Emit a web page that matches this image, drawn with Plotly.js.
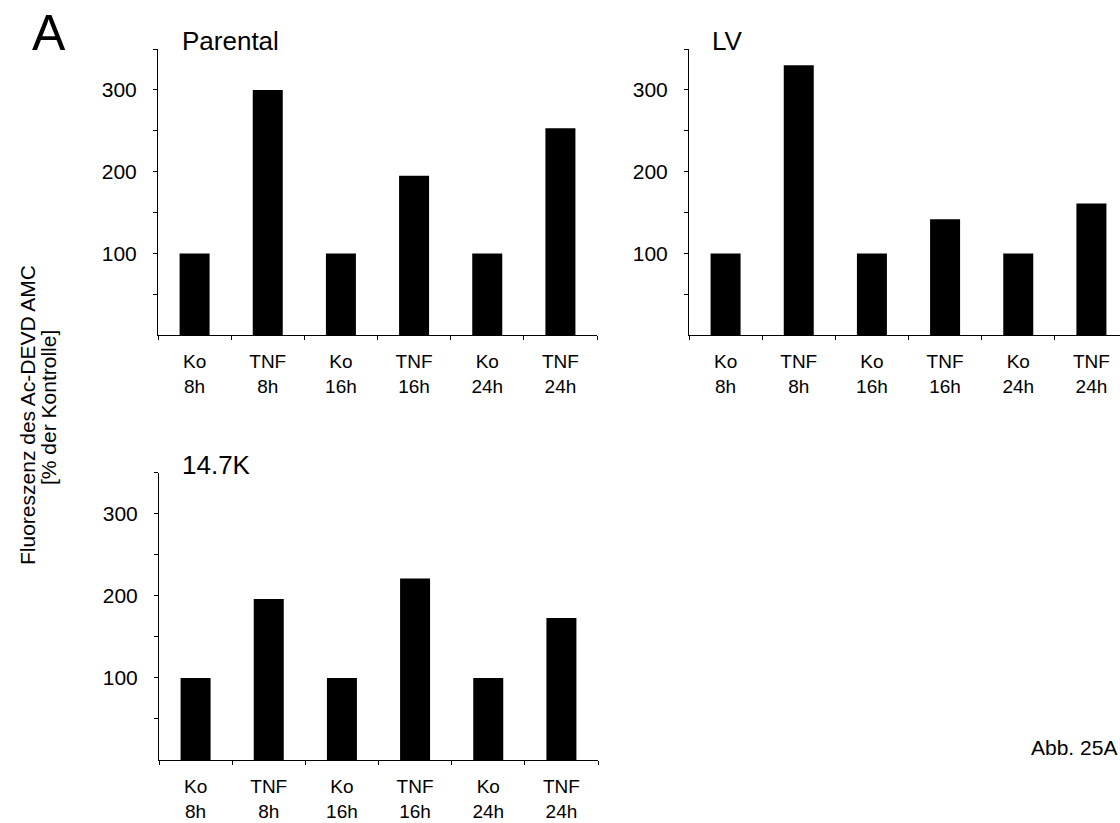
<!DOCTYPE html>
<html>
<head>
<meta charset="utf-8">
<script src="https://cdn.plot.ly/plotly-3.0.1.min.js"></script>
<style>html,body{margin:0;padding:0;background:#fff;overflow:hidden}</style>
</head>
<body>
<div id="chart" style="width:1120px;height:823px"></div>
<script>
// ---- data ----
const categories = ['Ko 8h', 'TNF 8h', 'Ko 16h', 'TNF 16h', 'Ko 24h', 'TNF 24h'];
const categoryLabels = ['Ko<br>8h', 'TNF<br>8h', 'Ko<br>16h', 'TNF<br>16h', 'Ko<br>24h', 'TNF<br>24h'];
const parentalValues = [100, 300, 100, 195, 100, 253];
const lvValues = [100, 330, 100, 142, 100, 161];
const k147Values = [100, 196, 100, 221, 100, 173];
const panelTitles = ['Parental', 'LV', '14.7K'];
const yTickValues = [50, 100, 150, 200, 250, 300, 350];
const yTickLabels = ['', '100', '', '200', '', '300', ''];
const yTitleLines = ['Fluoreszenz des Ac-DEVD AMC', '[% der Kontrolle]'];
const panelLetter = 'A';
const figureNote = 'Abb. 25A';

// ---- layout helpers ----
const W = 1120, H = 823;
const FONT = 'Liberation Sans, Arial, sans-serif';
const px = x => x / W;
const py = y => 1 - y / H;

function bar(vals, xa, ya) {
  return {type: 'bar', x: categories, y: vals, xaxis: xa, yaxis: ya,
          marker: {color: '#000', line: {width: 0}}, hoverinfo: 'skip'};
}

function xAxis(domain, anchor, range) {
  return {domain: domain, anchor: anchor, type: 'category', range: range,
          showline: true, linecolor: '#000', linewidth: 1, showgrid: false, zeroline: false,
          ticks: 'outside', tickson: 'boundaries', ticklen: 4, tickcolor: '#000', tickwidth: 1,
          tickvals: categories, ticktext: categoryLabels, ticklabelstandoff: 9,
          tickfont: {family: FONT, size: 19, color: '#000'}, fixedrange: true};
}
function yAxis(domain, anchor) {
  return {domain: domain, anchor: anchor, range: [0, 350],
          showline: true, linecolor: '#000', linewidth: 1, showgrid: false, zeroline: false,
          ticks: 'outside', ticklen: 4, tickcolor: '#000', tickwidth: 1,
          tickvals: yTickValues, ticktext: yTickLabels, ticklabelstandoff: 12,
          tickfont: {family: FONT, size: 21, color: '#000'}, fixedrange: true};
}

const data = [
  bar(parentalValues, 'x', 'y'),
  bar(lvValues, 'x2', 'y2'),
  bar(k147Values, 'x3', 'y3')
];

const ann = (text, x, y, size, xanchor, extra) => Object.assign({
  text: text, x: x, y: y, xref: 'paper', yref: 'paper', xanchor: xanchor, yanchor: 'middle',
  showarrow: false, font: {family: FONT, size: size, color: '#000'}
}, extra || {});

const layout = {
  width: W, height: H, margin: {l: 0, r: 0, t: 0, b: 0},
  paper_bgcolor: '#fff', plot_bgcolor: 'rgba(0,0,0,0)', showlegend: false, bargap: 0.59,
  xaxis: xAxis([px(158), px(597)], 'y', [-0.5, 5.5]),
  yaxis: yAxis([py(335.3), py(49)], 'x'),
  xaxis2: xAxis([px(689), 1], 'y2', [-0.5, 5.5 - 8 / 73.17]),
  yaxis2: yAxis([py(335.3), py(49)], 'x2'),
  xaxis3: xAxis([px(159), px(598)], 'y3', [-0.5, 5.5]),
  yaxis3: yAxis([py(760), py(472.7)], 'x3'),
  annotations: [
    ann(panelTitles[0], px(180), py(41), 26, 'left'),
    ann(panelTitles[1], px(710), py(41), 26, 'left'),
    ann(panelTitles[2], px(180), py(465), 26, 'left'),
    ann(yTitleLines[0], px(27), py(415), 21, 'center', {textangle: -90}),
    ann(yTitleLines[1], px(48), py(408), 21, 'center', {textangle: -90}),
    ann(panelLetter, px(49), py(33), 50, 'center'),
    ann(figureNote, px(1029), py(747), 21, 'left')
  ]
};

Plotly.newPlot('chart', data, layout, {staticPlot: true, displayModeBar: false});
</script>
</body>
</html>
